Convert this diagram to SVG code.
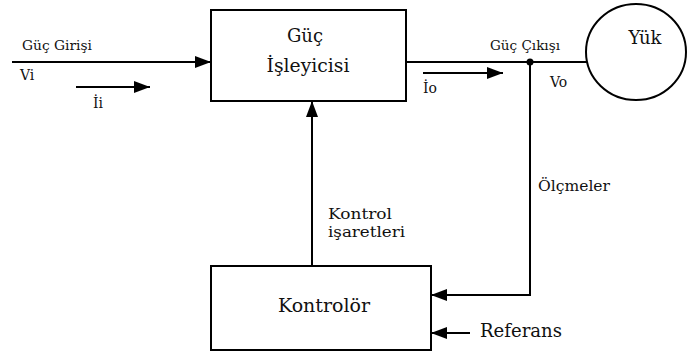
<svg xmlns="http://www.w3.org/2000/svg" width="696" height="356" viewBox="0 0 696 356">
<style>
.box{fill:#fff;stroke:#000;stroke-width:2}
.ln{fill:none;stroke:#000;stroke-width:2}
.t{font-family:"DejaVu Serif","Liberation Serif",serif;fill:#111}
.s{font-size:13px}
.m{font-size:14px}
.b{font-size:18px}
</style>
<defs>
<marker id="ah" viewBox="0 0 16 12" refX="16" refY="6" markerWidth="16" markerHeight="12" markerUnits="userSpaceOnUse" orient="auto">
<path d="M0,0 L16,6 L0,12 Z" fill="#000"/>
</marker>
</defs>
<rect width="696" height="356" fill="#fff"/>
<g id="connectors">
<line class="ln" x1="12" y1="62" x2="211" y2="62" marker-end="url(#ah)"/>
<line class="ln" x1="76" y1="87" x2="150" y2="87" marker-end="url(#ah)"/>
<line class="ln" x1="406" y1="62" x2="587" y2="62"/>
<line class="ln" x1="423" y1="73" x2="503" y2="73" marker-end="url(#ah)"/>
<polyline class="ln" points="530,62 530,295 431,295" marker-end="url(#ah)"/>
<line class="ln" x1="470" y1="333" x2="431" y2="333" marker-end="url(#ah)"/>
<line class="ln" x1="312" y1="266" x2="312" y2="101" marker-end="url(#ah)"/>
<circle cx="530" cy="62" r="3.5" fill="#000"/>
</g>
<g id="guc-isleyicisi">
<rect class="box" x="211" y="10" width="195" height="91"/>
<text class="t b" x="305" y="42" text-anchor="middle">Güç</text>
<text class="t b" x="308" y="72" text-anchor="middle" textLength="83" lengthAdjust="spacingAndGlyphs">İşleyicisi</text>
</g>
<g id="yuk">
<ellipse cx="636" cy="52" rx="50" ry="48" fill="#fff" stroke="#000" stroke-width="2"/>
<text class="t b" x="645" y="44" text-anchor="middle">Yük</text>
</g>
<g id="kontrolor">
<rect class="box" x="211" y="266" width="220" height="84"/>
<text class="t b" x="324" y="312" text-anchor="middle" textLength="92" lengthAdjust="spacingAndGlyphs">Kontrolör</text>
</g>
<g id="labels">
<text class="t s" x="22" y="50" textLength="70" lengthAdjust="spacingAndGlyphs">Güç Girişi</text>
<text class="t m" x="20" y="80">Vi</text>
<text class="t m" x="93" y="108">İi</text>
<text class="t s" x="490" y="50" textLength="70" lengthAdjust="spacingAndGlyphs">Güç Çıkışı</text>
<text class="t m" x="423" y="93">İo</text>
<text class="t m" x="550" y="87">Vo</text>
<text class="t m" x="538" y="191" textLength="72" lengthAdjust="spacingAndGlyphs">Ölçmeler</text>
<text class="t m" x="328" y="219" textLength="64" lengthAdjust="spacingAndGlyphs">Kontrol</text>
<text class="t m" x="328" y="237" textLength="77" lengthAdjust="spacingAndGlyphs">işaretleri</text>
<text class="t b" x="480" y="337" textLength="82" lengthAdjust="spacingAndGlyphs">Referans</text>
</g>
</svg>
